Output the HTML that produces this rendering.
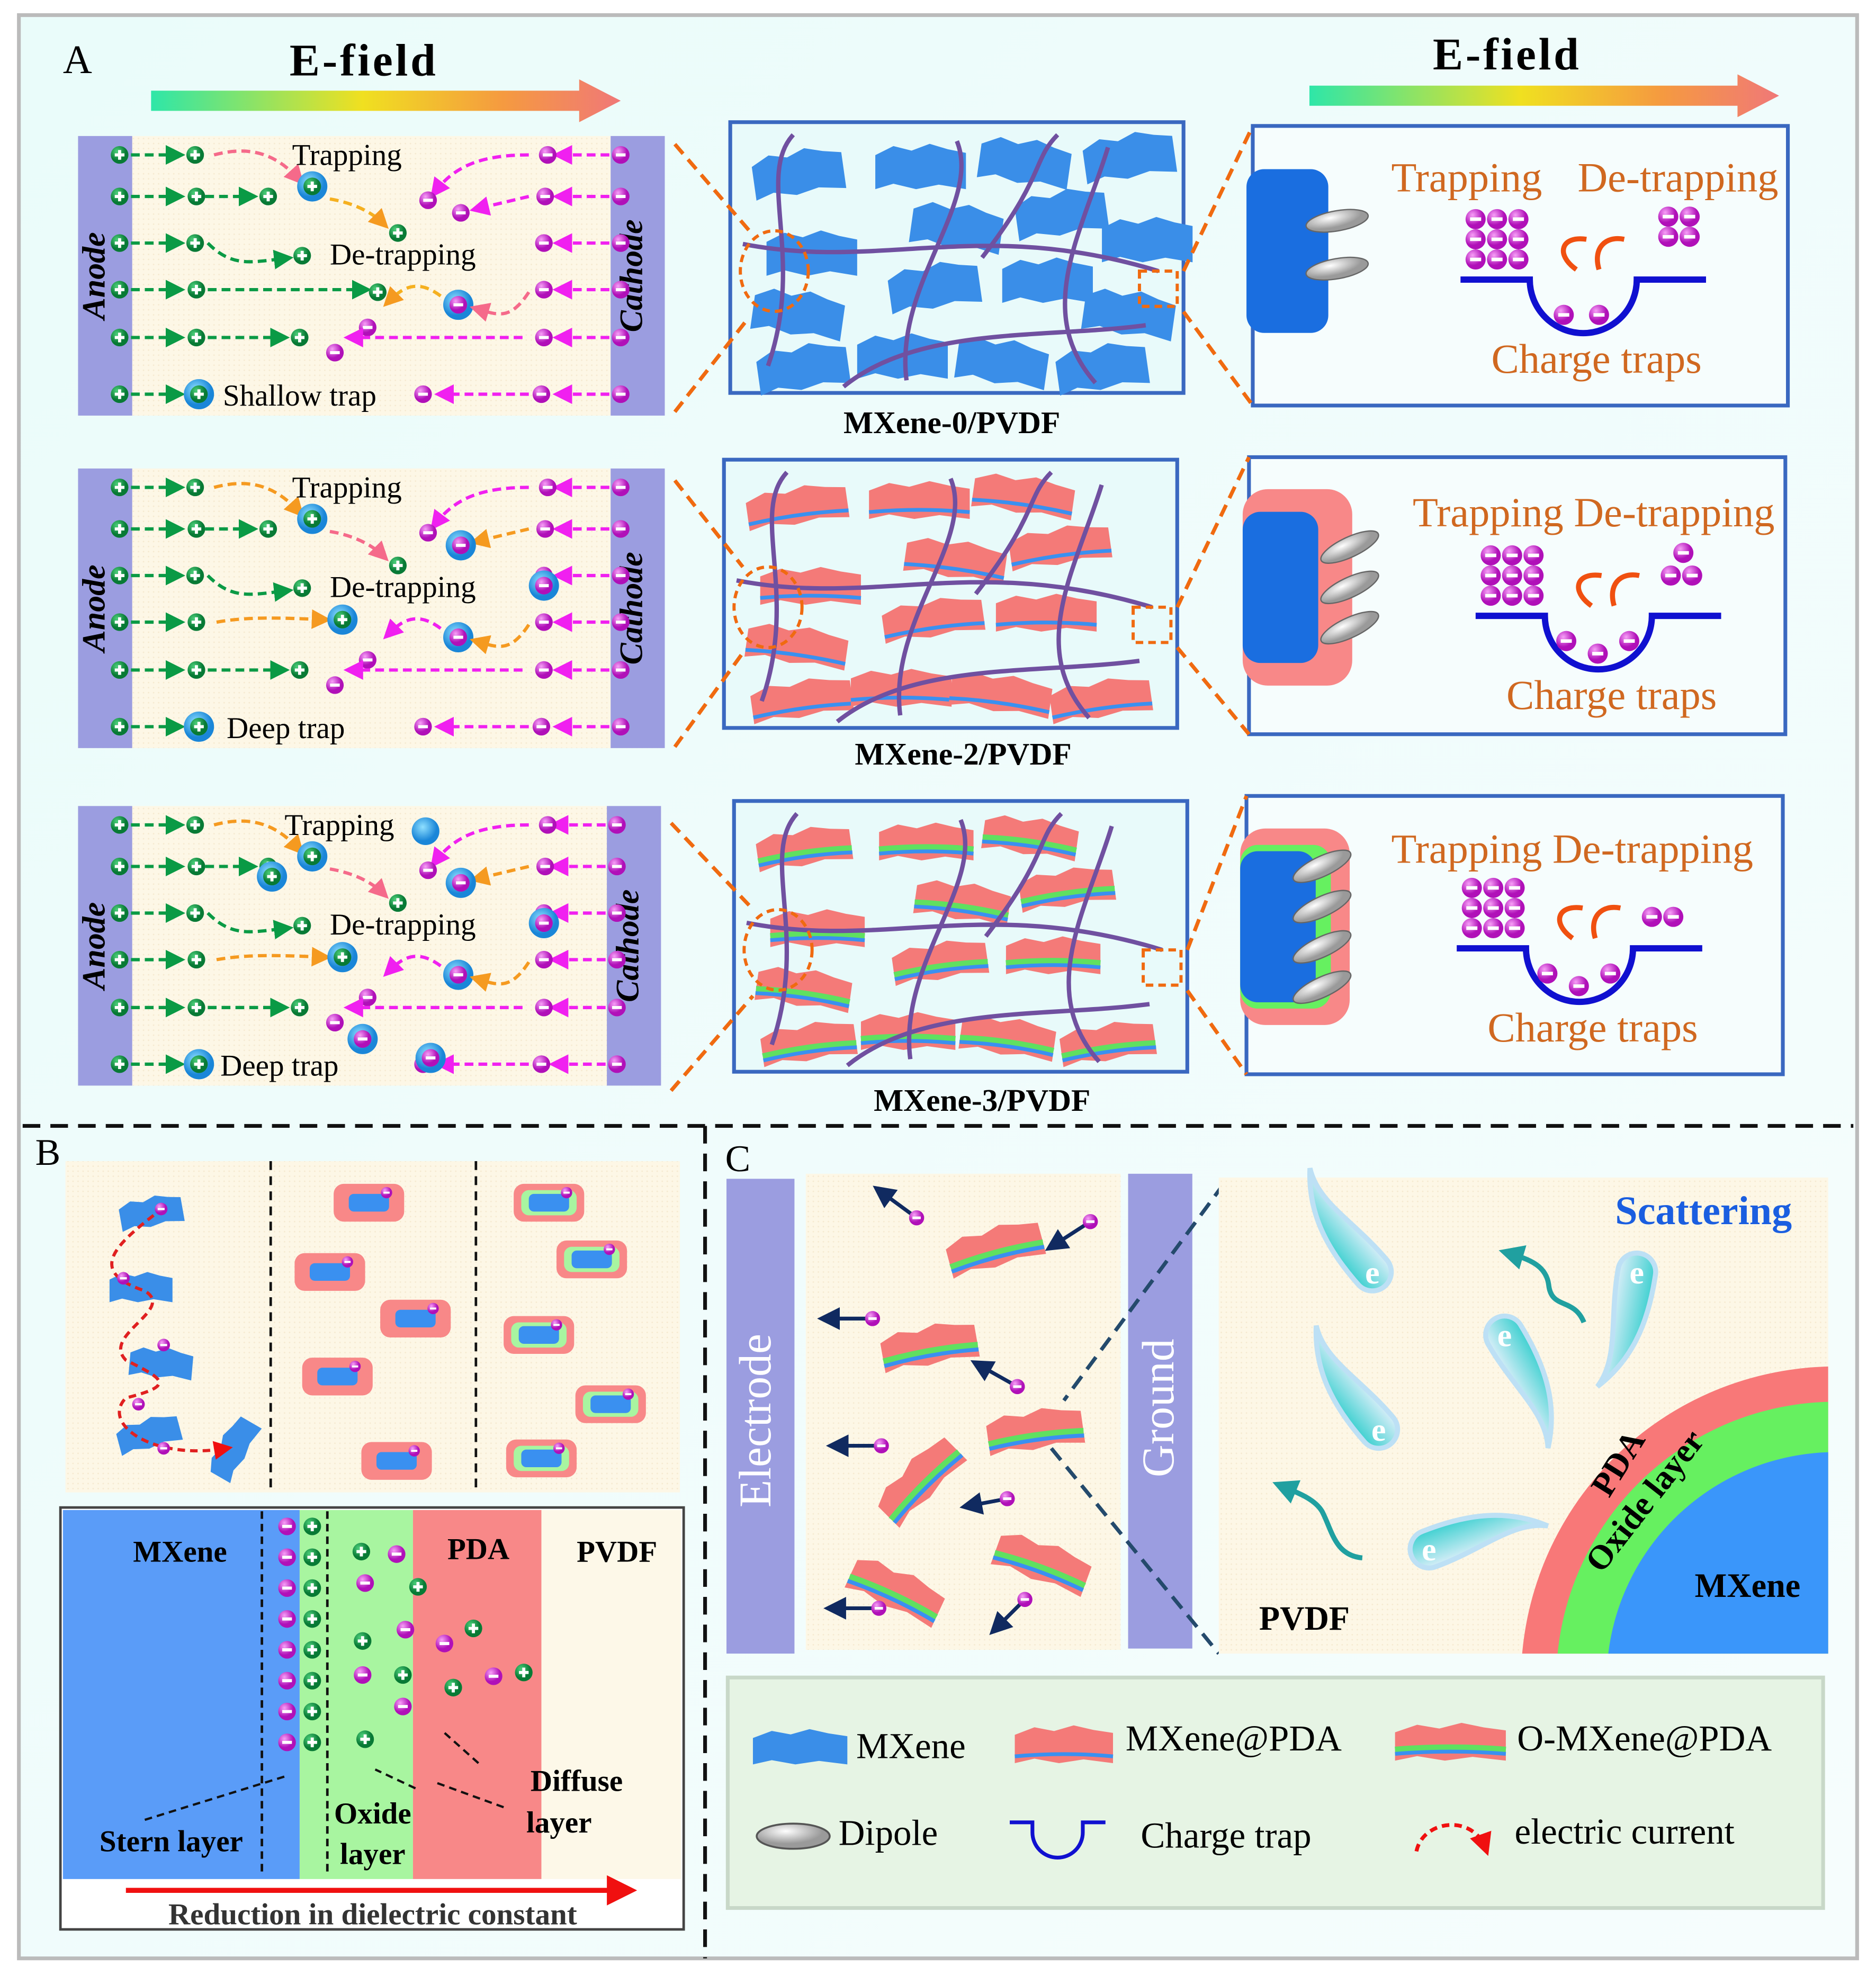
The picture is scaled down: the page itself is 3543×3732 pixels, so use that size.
<!DOCTYPE html>
<html><head><meta charset="utf-8">
<style>
html,body{margin:0;padding:0;background:#fff;}
svg{display:block;}
text{font-family:"Liberation Serif",serif;}
</style></head>
<body>
<svg id="fig" width="3543" height="3732" viewBox="0 0 1490 1569" preserveAspectRatio="none" xmlns="http://www.w3.org/2000/svg">
<defs>
<linearGradient id="bg" x1="0" y1="0" x2="1" y2="1"><stop offset="0" stop-color="#eafcfa"/><stop offset="1" stop-color="#f6fdfd"/></linearGradient>
<linearGradient id="ef" x1="0" y1="0" x2="1" y2="0"><stop offset="0" stop-color="#2ee6a8"/><stop offset="0.45" stop-color="#f0e020"/><stop offset="0.75" stop-color="#f59a40"/><stop offset="1" stop-color="#f07878"/></linearGradient>
<radialGradient id="gp" cx="0.35" cy="0.3"><stop offset="0" stop-color="#4ccf7a"/><stop offset="1" stop-color="#087a35"/></radialGradient>
<radialGradient id="mp" cx="0.35" cy="0.3"><stop offset="0" stop-color="#f7a0f7"/><stop offset="1" stop-color="#b010b8"/></radialGradient>
<radialGradient id="tp" cx="0.4" cy="0.35"><stop offset="0" stop-color="#8fe0ff"/><stop offset="1" stop-color="#1a86d8"/></radialGradient>
<radialGradient id="dp" cx="0.4" cy="0.3"><stop offset="0" stop-color="#fff"/><stop offset="1" stop-color="#9a9a9a"/></radialGradient>
<linearGradient id="el" x1="0" y1="0" x2="0" y2="1"><stop offset="0" stop-color="#3dd0d0"/><stop offset="1" stop-color="#d8eef8"/></linearGradient>
<pattern id="cream" width="4" height="4" patternUnits="userSpaceOnUse"><rect width="4" height="4" fill="#fdf7e6"/><circle cx="2" cy="2" r="0.6" fill="#f6ead0"/></pattern>
<clipPath id="cclip"><rect x="968" y="935" width="484" height="378"/></clipPath>
<marker id="ag" markerWidth="6" markerHeight="6" refX="4" refY="3" orient="auto"><path d="M0,0 L6,3 L0,6z" fill="#0a9a45"/></marker>
<marker id="am" markerWidth="6" markerHeight="6" refX="4" refY="3" orient="auto"><path d="M0,0 L6,3 L0,6z" fill="#f020f0"/></marker>
<marker id="ao" markerWidth="6" markerHeight="6" refX="4" refY="3" orient="auto"><path d="M0,0 L6,3 L0,6z" fill="#f59a20"/></marker>
<marker id="ap" markerWidth="6" markerHeight="6" refX="4" refY="3" orient="auto"><path d="M0,0 L6,3 L0,6z" fill="#f56a8a"/></marker>
<marker id="an" markerWidth="6" markerHeight="6" refX="4" refY="3" orient="auto"><path d="M0,0 L6,3 L0,6z" fill="#102a60"/></marker>
<marker id="ar" markerWidth="6" markerHeight="6" refX="4" refY="3" orient="auto"><path d="M0,0 L6,3 L0,6z" fill="#f01010"/></marker>
<marker id="at" markerWidth="5" markerHeight="5" refX="3" refY="2.5" orient="auto"><path d="M0,0 L5,2.5 L0,5z" fill="#20a0a0"/></marker>
</defs>

<rect x="15" y="12" width="1460" height="1543" fill="url(#bg)" stroke="#bbb" stroke-width="3"/>

<g>
<text x="50" y="58" font-size="32">A</text>
<text x="230" y="60" font-size="36" font-weight="bold" letter-spacing="2">E-field</text>
<path d="M120,72 H460 V63 L493,80 L460,97 V88 H120z" fill="url(#ef)"/>
<text x="1138" y="55" font-size="36" font-weight="bold" letter-spacing="2">E-field</text>
<path d="M1040,68 H1380 V59 L1413,76 L1380,93 V84 H1040z" fill="url(#ef)"/>
<g id="arows"></g>
<g id="mid"></g>
<g id="right"></g>
<text x="756" y="344" font-size="25" font-weight="bold" text-anchor="middle">MXene-0/PVDF</text>
<text x="765" y="607" font-size="25" font-weight="bold" text-anchor="middle">MXene-2/PVDF</text>
<text x="780" y="882" font-size="25" font-weight="bold" text-anchor="middle">MXene-3/PVDF</text>
</g>

<line x1="18" y1="894" x2="1472" y2="894" stroke="#111" stroke-width="3" stroke-dasharray="14,8"/>
<line x1="560" y1="894" x2="560" y2="1555" stroke="#111" stroke-width="3" stroke-dasharray="14,8"/>

<g>
<text x="28" y="925" font-size="30">B</text>
<rect x="52" y="922" width="488" height="263" fill="url(#cream)"/>
<line x1="215" y1="922" x2="215" y2="1185" stroke="#111" stroke-width="2" stroke-dasharray="7,5"/>
<line x1="378" y1="922" x2="378" y2="1185" stroke="#111" stroke-width="2" stroke-dasharray="7,5"/>
<g id="btop"></g>
<rect x="48" y="1197" width="495" height="335" fill="#fff" stroke="#444" stroke-width="2"/>
<rect x="50" y="1199" width="188" height="293" fill="#5a9cf8"/>
<rect x="238" y="1199" width="90" height="293" fill="#a8f5a0"/>
<rect x="328" y="1199" width="102" height="293" fill="#f88888"/>
<rect x="430" y="1199" width="111" height="293" fill="#fdf8e8"/>
<line x1="208" y1="1200" x2="208" y2="1490" stroke="#111" stroke-width="2" stroke-dasharray="6,4"/>
<line x1="260" y1="1200" x2="260" y2="1490" stroke="#111" stroke-width="2" stroke-dasharray="6,4"/>
<g id="bbot"></g>
<text x="143" y="1240" font-size="24" font-weight="bold" text-anchor="middle">MXene</text>
<text x="380" y="1238" font-size="24" font-weight="bold" text-anchor="middle">PDA</text>
<text x="490" y="1240" font-size="24" font-weight="bold" text-anchor="middle">PVDF</text>
<text x="136" y="1470" font-size="24" font-weight="bold" text-anchor="middle">Stern layer</text>
<text x="296" y="1448" font-size="24" font-weight="bold" text-anchor="middle">Oxide</text>
<text x="296" y="1480" font-size="24" font-weight="bold" text-anchor="middle">layer</text>
<text x="458" y="1422" font-size="24" font-weight="bold" text-anchor="middle">Diffuse</text>
<text x="444" y="1455" font-size="24" font-weight="bold" text-anchor="middle">layer</text>
<path d="M115,1445 L228,1410 M330,1420 L298,1405 M380,1400 L352,1375 M400,1435 L345,1415" stroke="#111" stroke-width="1.8" stroke-dasharray="6,4" fill="none"/>
<line x1="100" y1="1501" x2="498" y2="1501" stroke="#f01010" stroke-width="4" marker-end="url(#ar)"/>
<text x="296" y="1528" font-size="24" font-weight="bold" text-anchor="middle" fill="#333">Reduction in dielectric constant</text>
</g>

<g>
<text x="576" y="930" font-size="30">C</text>
<rect x="577" y="936" width="54" height="377" fill="#9b9de0"/>
<text x="612" y="1128" font-size="36" fill="#fff" text-anchor="middle" transform="rotate(-90 612 1128)">Electrode</text>
<rect x="640" y="932" width="250" height="378" fill="url(#cream)"/>
<rect x="896" y="932" width="51" height="377" fill="#9b9de0"/>
<text x="932" y="1118" font-size="36" fill="#fff" text-anchor="middle" transform="rotate(-90 932 1118)">Ground</text>
<g id="cmid"></g>
<path d="M972,940 L845,1112 M835,1150 L968,1313" stroke="#244a6c" stroke-width="3" stroke-dasharray="12,7" fill="none"/>
<rect x="968" y="935" width="484" height="378" fill="url(#cream)"/>
<g clip-path="url(#cclip)">
<circle cx="1458" cy="1335" r="250" fill="#f87878"/>
<circle cx="1458" cy="1335" r="222" fill="#66f060"/>
<circle cx="1458" cy="1335" r="182" fill="#3a96fa"/>
</g>
<text x="1353" y="972" font-size="32" font-weight="bold" fill="#1a5ee0" text-anchor="middle">Scattering</text>
<text x="1278" y="1190" font-size="27" font-weight="bold" transform="rotate(-58 1278 1190)">PDA</text>
<text x="1272" y="1250" font-size="27" font-weight="bold" transform="rotate(-52 1272 1250)">Oxide layer</text>
<text x="1388" y="1268" font-size="27" font-weight="bold" text-anchor="middle">MXene</text>
<text x="1036" y="1294" font-size="27" font-weight="bold" text-anchor="middle">PVDF</text>
<g id="elec"></g>
<path d="M1258,1050 C1250,1030 1232,1040 1230,1020 C1228,1005 1215,1000 1198,995" stroke="#20a0a0" stroke-width="4" fill="none" marker-end="url(#at)"/>
<path d="M1082,1237 C1060,1235 1058,1215 1050,1200 C1044,1190 1030,1185 1018,1180" stroke="#20a0a0" stroke-width="4" fill="none" marker-end="url(#at)"/>
</g>

<g>
<rect x="578" y="1332" width="870" height="183" fill="#e6f4e4" stroke="#c8d8c8" stroke-width="3"/>
<g id="leg"></g>
<text x="680" y="1396" font-size="29">MXene</text>
<text x="894" y="1390" font-size="29">MXene@PDA</text>
<text x="1205" y="1390" font-size="29">O-MXene@PDA</text>
<text x="666" y="1465" font-size="29">Dipole</text>
<text x="906" y="1467" font-size="29">Charge trap</text>
<text x="1203" y="1464" font-size="29">electric current</text>
<path d="M802,1447 H820 V1455 A20,20 0 0 0 860,1455 V1447 H878" stroke="#1010d0" stroke-width="3" fill="none"/>
<path d="M1125,1470 C1130,1445 1170,1440 1180,1468" stroke="#f01010" stroke-width="3" stroke-dasharray="6,4" fill="none" marker-end="url(#ar)"/>
</g>
</svg>

<script>
const rowTops = [108, 372, 640];
const rowLabels = [["Trapping","De-trapping","Shallow trap"],["Trapping","De-trapping","Deep trap"],["Trapping","De-trapping","Deep trap"]];
const NS = "http://www.w3.org/2000/svg";
function mk(tag, attrs, parent){const e=document.createElementNS(NS,tag);for(const k in attrs)e.setAttribute(k,attrs[k]);parent.appendChild(e);return e;}
function charge(p,x,y,pos,r){
  r=r||7;
  const g=mk('g',{},p);
  
  
  mk('circle',{cx:x,cy:y,r:r,fill:pos?'url(#gp)':'url(#mp)'},g);
  mk('line',{x1:x-r*0.55,y1:y,x2:x+r*0.55,y2:y,stroke:'#fff','stroke-width':r*0.35},g);
  if(pos) mk('line',{x1:x,y1:y-r*0.55,x2:x,y2:y+r*0.55,stroke:'#fff','stroke-width':r*0.35},g);
  return g;
}
function trapped(p,x,y,pos){
  const c=mk('circle',{cx:x,cy:y,r:12,fill:'url(#tp)'},p);
  
  
  if(pos!==null) charge(p,x,y,pos,7);
}
function dash(p,d,col,m){
  const e=mk('path',{d:d,stroke:col,'stroke-width':2.6,fill:'none','stroke-dasharray':'7,4','marker-end':'url(#'+m+')'},p);
  
  
}
const ar=document.getElementById('arows');
rowTops.forEach((t,i)=>{
  const g=mk('g',{},ar);
  
  
  const x0=62, x1=i==2?525:528;
  mk('rect',{x:x0,y:t,width:x1-x0,height:222,fill:'url(#cream)'},g);
  const an=mk('rect',{x:x0,y:t,width:43,height:222,fill:'#9b9de0'},g);
  
  
  const ca=mk('rect',{x:x1-43,y:t,width:43,height:222,fill:'#9b9de0'},g);
  
  
  const ta=mk('text',{x:83,y:t+111,'font-size':26,'font-weight':'bold','font-style':'italic','text-anchor':'middle',transform:'rotate(-90 83 '+(t+111)+')'},g); ta.textContent='Anode';
  
  
  const ys=[15,48,85,122,160,205].map(v=>t+v);
  ys.forEach((y,k)=>{
    charge(g,95,y,true);
    dash(g,`M104,${y} H142`,'#0a9a45','ag');
    dash(g,`M${x1-44},${y} H${x1-84}`,'#f020f0','am');
  });
  const tc=mk('text',{x:x1-18,y:t+111,'font-size':26,'font-weight':'bold','font-style':'italic','text-anchor':'middle',transform:'rotate(-90 '+(x1-18)+' '+(t+111)+')'},g); tc.textContent='Cathode';
  
  
  ys.forEach(y=>charge(g,x1-35,y,false));
  const o = i==0?'#f56a8a':'#f59a20', om = i==0?'ap':'ao';
  const L=rowLabels[i];
  charge(g,155,ys[0],true); charge(g,156,ys[1],true); charge(g,155,ys[2],true); charge(g,156,ys[3],true); charge(g,156,ys[4],true);
  charge(g,435,ys[0],false); charge(g,433,ys[1],false); charge(g,432,ys[2],false); charge(g,432,ys[3],false); charge(g,432,ys[4],false); charge(g,430,ys[5],false);
  dash(g,`M170,${ys[0]} C200,${ys[0]-8} 220,${ys[0]} 238,${ys[0]+20}`,o,om);
  trapped(g,248,ys[0]+25,true);
  dash(g,`M262,${ys[0]+35} C280,${ys[0]+38} 295,${ys[0]+45} 305,${ys[0]+55}`,i==0?'#f5b020':'#f56a8a',i==0?'ao':'ap');
  charge(g,316,ys[0]+62,true);
  dash(g,`M420,${ys[0]} C380,${ys[0]} 360,${ys[0]+10} 345,${ys[0]+30}`,'#f020f0','am');
  charge(g,340,ys[0]+36,false);
  dash(g,`M163,${ys[1]} H200`,'#0a9a45','ag'); charge(g,213,ys[1],true);
  dash(g,`M420,${ys[1]} L378,${ys[1]+10}`,i==0?'#f020f0':o,i==0?'am':om); charge(g,366,ys[1]+13,false);
  if(i>0){ trapped(g,366,ys[1]+13,false); }
  dash(g,`M165,${ys[2]} C185,${ys[2]+20} 200,${ys[2]+15} 228,${ys[2]+12}`,'#0a9a45','ag'); charge(g,240,ys[2]+10,true);
  if(i>0) trapped(g,432,ys[2]+8,false);
  if(i==0){dash(g,`M165,${ys[3]} H290`,'#0a9a45','ag'); charge(g,300,ys[3]+2,true);}
  else {dash(g,`M172,${ys[3]} C200,${ys[3]-5} 230,${ys[3]-3} 258,${ys[3]-2}`,o,om); trapped(g,272,ys[3]-2,true);}
  dash(g,`M350,${ys[3]+5} C330,${ys[3]-10} 318,${ys[3]} 308,${ys[3]+10}`,i==0?'#f5b020':'#f020f0',i==0?'ao':'am');
  trapped(g,364,ys[3]+12,false);
  dash(g,`M420,${ys[3]+2} C405,${ys[3]+25} 395,${ys[3]+20} 378,${ys[3]+15}`,i==0?'#f56a8a':o,om);
  charge(g,292,ys[4]-8,false);
  dash(g,`M165,${ys[4]} H225`,'#0a9a45','ag'); charge(g,238,ys[4],true);
  dash(g,`M415,${ys[4]} H278`,'#f020f0','am'); charge(g,266,ys[4]+12,false);
  trapped(g,158,ys[5],true);
  dash(g,`M420,${ys[5]} H350`,'#f020f0','am'); charge(g,336,ys[5],false);
  const t1=mk('text',{x:i==2?226:232,y:ys[0]+8,'font-size':24},g); t1.textContent=L[0];
   
  const t2=mk('text',{x:262,y:ys[2]+17,'font-size':24},g); t2.textContent=L[1];
   
  const t3=mk('text',{x:i==0?177:i==1?180:175,y:ys[5]+9,'font-size':24},g); t3.textContent=L[2];
   
  if(i==2){ const c=mk('circle',{cx:338,cy:ys[0]+5,r:11,fill:'url(#tp)'},g);   trapped(g,288,ys[5]-20,false); trapped(g,342,ys[5]-5,false); trapped(g,216,ys[1]+8,true);}
});
const mid=document.getElementById('mid');
const midBoxes=[[580,97,360,215],[575,365,360,213],[583,636,360,215]];
const flakePos=[[0.05,0.1],[0.32,0.08],[0.55,0.06],[0.78,0.04],[0.08,0.4],[0.4,0.3],[0.63,0.25],[0.82,0.35],[0.05,0.62],[0.35,0.52],[0.6,0.5],[0.78,0.62],[0.06,0.82],[0.28,0.78],[0.5,0.8],[0.72,0.82]];
function flake(p,x,y,w,h,type,rot){
  const g=mk('g',{transform:`rotate(${rot} ${x+w/2} ${y+h/2})`},p);
  
  
  const d=`M${x},${y+h*0.25} L${x+w*0.2},${y+h*0.05} L${x+w*0.4},${y+h*0.15} L${x+w*0.6},${y} L${x+w*0.8},${y+h*0.12} L${x+w},${y+h*0.2} L${x+w},${y+h} L${x+w*0.7},${y+h*0.9} L${x+w*0.45},${y+h} L${x+w*0.2},${y+h*0.88} L${x},${y+h}Z`;
  if(type==0){mk('path',{d:d,fill:'#3a8ee8'},g);}
  else{
    mk('path',{d:d,fill:'#f47a78'},g);
    if(type==2) mk('path',{d:`M${x},${y+h*0.72} Q${x+w/2},${y+h*0.6} ${x+w},${y+h*0.72}`,stroke:'#60e060','stroke-width':h*0.18,fill:'none'},g);
    mk('path',{d:`M${x},${y+h*0.82} Q${x+w/2},${y+h*0.7} ${x+w},${y+h*0.82}`,stroke:'#3a90f0','stroke-width':h*0.1,fill:'none'},g);
  }
}
midBoxes.forEach((b,i)=>{
  const [x,y,w,h]=b;
  const g=mk('g',{},mid);
  
  
  mk('rect',{x:x,y:y,width:w,height:h,fill:'#e8fafa',stroke:'#3a68c0','stroke-width':3},g);
  flakePos.forEach((f,k)=>{
    if(i>0 && k%4==3 && k<12) return;
    flake(g,x+f[0]*w,y+f[1]*h,i==0?72:i==1?80:75,i==0?36:30,i,(k%3-1)*8);
  });
  const ch=mk('path',{d:`M${x+30},${y+h*0.9} C${x+60},${y+h*0.5} ${x+20},${y+h*0.2} ${x+50},${y+10} M${x+10},${y+h*0.45} C${x+120},${y+h*0.55} ${x+200},${y+h*0.35} ${x+w-20},${y+h*0.55} M${x+140},${y+h-10} C${x+130},${y+h*0.6} ${x+200},${y+h*0.3} ${x+180},${y+15} M${x+90},${y+h-5} C${x+150},${y+h*0.75} ${x+250},${y+h*0.8} ${x+w-30},${y+h*0.75} M${x+w-60},${y+20} C${x+w-80},${y+h*0.4} ${x+w-120},${y+h*0.7} ${x+w-70},${y+h-8} M${x+200},${y+h*0.5} C${x+250},${y+h*0.2} ${x+240},${y+30} ${x+260},${y+10}`,stroke:'#7050a0','stroke-width':3.5,fill:'none'},g);
  
  
  mk('ellipse',{cx:x+35,cy:y+h*0.55,rx:27,ry:32,fill:'none',stroke:'#f06a10','stroke-width':2.5,'stroke-dasharray':'6,4'},g);
  mk('rect',{x:x+w-35,y:y+h*0.55,width:30,height:28,fill:'none',stroke:'#f06a10','stroke-width':2.5,'stroke-dasharray':'6,4'},g);
  const lx=[528,528,525][i];
  mk('path',{d:`M${lx+8},${y+h*0.5-180+90} L${x+15},${y+h*0.4} M${lx+8},${y+h+15} L${x+15},${y+h*0.72}`,stroke:'#f06a10','stroke-width':3,'stroke-dasharray':'10,6',fill:'none'},g);
});
const right=document.getElementById('right');
const rightBoxes=[[995,100,425,222],[992,363,426,220],[990,632,426,221]];
rightBoxes.forEach((b,i)=>{
  const [x,y,w,h]=b;
  const g=mk('g',{},right);
  
  
  mk('rect',{x:x,y:y,width:w,height:h,fill:'#f6fdfd',stroke:'#3a68c0','stroke-width':3},g);
  const mb=midBoxes[i];
  mk('path',{d:`M${mb[0]+mb[2]},${mb[1]+mb[3]*0.55} L${x},${y} M${mb[0]+mb[2]},${mb[1]+mb[3]*0.7} L${x},${y+h}`,stroke:'#f06a10','stroke-width':3,'stroke-dasharray':'10,6',fill:'none'},g);
  const cy=y+h*0.47;
  if(i>=1) mk('rect',{x:x-5,y:cy-78,width:87,height:156,rx:20,fill:'#f88888'},g);
  if(i==2) mk('rect',{x:x-5,y:cy-65,width:72,height:130,rx:14,fill:'#66f060'},g);
  mk('rect',{x:x-5,y:cy-(i==0?70:60),width:i==0?65:60,height:i==0?130:120,rx:14,fill:'#1a6ee0'},g);
  const n=i==0?2:i==1?3:4;
  for(let k=0;k<n;k++){
    const dy=cy+(k-(n-1)/2)*(i==0?38:32)-(i==0?10:0);
    const dx=x+(i==0?67:i==1?80:60);
    const e=mk('ellipse',{cx:dx,cy:dy,rx:25,ry:8,fill:'url(#dp)',stroke:'#666','stroke-width':1,transform:`rotate(${i==0?-10:-25} ${dx} ${dy})`},g);
    
    
  }
  const tx=[1105,1122,1105][i], ty=[152,418,685][i];
  if(i==0){
    const a=mk('text',{x:1105,y:ty,'font-size':33,fill:'#d06820'},g); a.textContent='Trapping';
     
    const bb=mk('text',{x:1253,y:ty,'font-size':33,fill:'#d06820'},g); bb.textContent='De-trapping';
     
  } else {
    const t=mk('text',{x:tx,y:ty,'font-size':33,fill:'#d06820'},g);
    t.textContent='Trapping De-trapping';
     
  }
  const wx=[1160,1172,1157][i], wy=[222,489,753][i];
  const tr=mk('path',{d:`M${wx},${wy} H${wx+55} A42,42 0 0 0 ${wx+140},${wy} H${wx+195}`,stroke:'#1010d0','stroke-width':5,fill:'none'},g);
   
  for(let r=0;r<3;r++)for(let c=0;c<3;c++) charge(g,wx+12+c*17,wy-48+r*16,false,8);
  const tp=[[[wx+82,wy+28],[wx+110,wy+28]],[[wx+72,wy+20],[wx+97,wy+30],[wx+122,wy+20]],[[wx+72,wy+20],[wx+97,wy+30],[wx+122,wy+20]]][i];
  tp.forEach(p=>charge(g,p[0],p[1],false,8));
  const fr=[[[wx+165,wy-50],[wx+182,wy-50],[wx+165,wy-34],[wx+182,wy-34]],[[wx+165,wy-50],[wx+155,wy-32],[wx+172,wy-32]],[[wx+155,wy-25],[wx+172,wy-25]]][i];
  fr.forEach(p=>charge(g,p[0],p[1],false,8));
  mk('path',{d:`M${wx+92},${wy-8} C${wx+75},${wy-20} ${wx+80},${wy-35} ${wx+100},${wy-32}`,stroke:'#f05010','stroke-width':4,fill:'none'},g);
  mk('path',{d:`M${wx+110},${wy-8} C${wx+105},${wy-25} ${wx+115},${wy-35} ${wx+130},${wy-32}`,stroke:'#f05010','stroke-width':4,fill:'none'},g);
  const ct=mk('text',{x:wx+108,y:wy+74,'font-size':33,fill:'#d06820','text-anchor':'middle'},g); ct.textContent='Charge traps';
   
});
const bt=document.getElementById('btop');
const mxPos=[[120,962,-10],[112,1022,0],[128,1082,5],[118,1138,-15],[185,1150,-60]];
mxPos.forEach(p=>flake(bt,p[0]-25,p[1]-12,50,24,0,p[2]));
const cur=mk('path',{d:'M122,965 C90,990 70,1010 115,1025 C140,1040 80,1060 100,1080 C130,1095 140,1100 100,1110 C80,1130 120,1160 180,1150',stroke:'#e02020','stroke-width':2.5,'stroke-dasharray':'6,4',fill:'none','marker-end':'url(#ar)'},bt);
 
[[128,960],[98,1015],[130,1068],[110,1115],[130,1150]].forEach(p=>charge(bt,p[0],p[1],false,5));
function cell(p,x,y,ox){
  const g=mk('g',{},p);
  
  
  mk('rect',{x:x-28,y:y-15,width:56,height:30,rx:8,fill:'#f88888'},g);
  if(ox) mk('rect',{x:x-22,y:y-10,width:44,height:20,rx:6,fill:'#a8f5a0'},g);
  mk('rect',{x:x-16,y:y-7,width:32,height:14,rx:4,fill:'#3a90f0'},g);
  charge(g,x+14,y-8,false,4.5);
}
[[293,955],[262,1010],[330,1047],[268,1093],[315,1160]].forEach(p=>cell(bt,p[0],p[1],false));
[[436,955],[470,1000],[428,1060],[485,1115],[430,1158]].forEach(p=>cell(bt,p[0],p[1],true));
const bb=document.getElementById('bbot');
for(let k=0;k<8;k++){ charge(bb,228,1212+k*24.5,false,7); charge(bb,248,1212+k*24.5,true,7); }
[[287,1232,1],[315,1234,0],[290,1257,0],[332,1260,1],[288,1303,1],[322,1294,0],[376,1293,1],[353,1305,0],[288,1330,0],[320,1330,1],[360,1340,1],[392,1331,0],[416,1328,1],[320,1355,0],[290,1381,1]].forEach(p=>charge(bb,p[0],p[1],!!p[2],7));
const cm=document.getElementById('cmid');
[[790,990,-15],[738,1068,-10],[822,1135,-8],[730,1175,-45],[712,1262,25],[828,1240,20]].forEach(p=>flake(cm,p[0]-38,p[1]-16,76,32,2,p[2]));
[[[728,967],[698,945]],[[866,970],[835,990]],[[693,1047],[655,1047]],[[808,1101],[776,1083]],[[700,1148],[662,1148]],[[800,1190],[768,1196]],[[698,1277],[660,1277]],[[814,1270],[790,1294]]].forEach(a=>{
  const l=mk('line',{x1:a[0][0],y1:a[0][1],x2:a[1][0],y2:a[1][1],stroke:'#102a60','stroke-width':3,'marker-end':'url(#an)'},cm);
   
  charge(cm,a[0][0],a[0][1],false,6);
});
const el=document.getElementById('elec');
// tadpole electrons: head position + tail direction
[[1090,1010,-130],[1095,1135,-130],[1300,1010,100],[1195,1060,60],[1135,1230,-20]].forEach(p=>{
  const g=mk('g',{transform:`translate(${p[0]} ${p[1]}) rotate(${p[2]})`},el);
  
  
  mk('path',{d:'M0,-15 C40,-16 70,-8 95,15 C70,2 40,15 0,15 A15,15 0 0 1 0,-15Z',fill:'url(#el)',stroke:'#bde0f5','stroke-width':4},g);
  const t=mk('text',{x:p[0],y:p[1]+9,'font-size':26,'font-weight':'bold',fill:'#fff','text-anchor':'middle'},el); t.textContent='e';
   
});
const lg=document.getElementById('leg');
flake(lg,598,1373,75,28,0,0);
flake(lg,806,1370,78,30,1,0);
flake(lg,1108,1368,88,30,2,0);
const dpl=mk('ellipse',{cx:630,cy:1458,rx:29,ry:10,fill:'url(#dp)',stroke:'#555','stroke-width':1.5},lg);
 
</script>
</body></html>
